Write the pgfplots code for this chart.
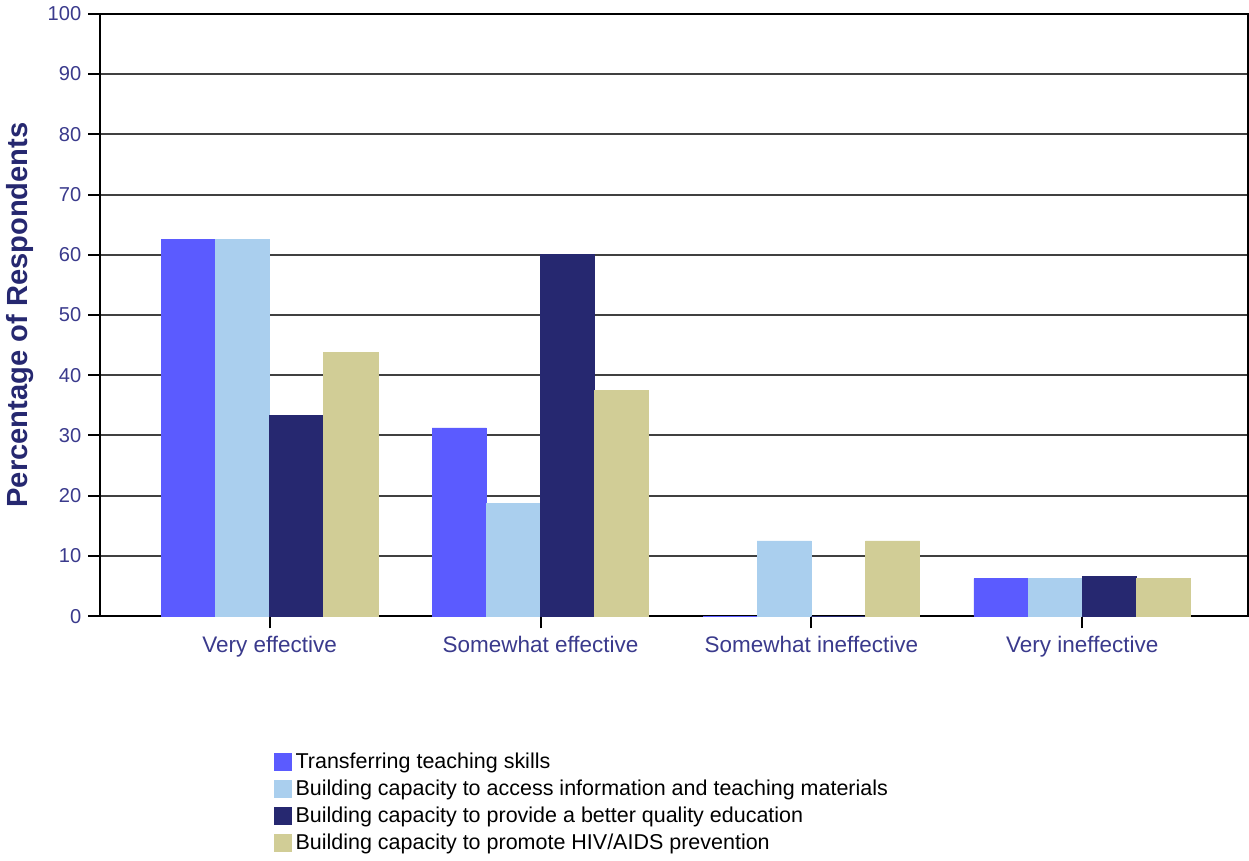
\documentclass[border=0pt]{standalone}
\usepackage{pgfplots}
\pgfplotsset{compat=1.18}
\usepackage{fontspec}
\setmainfont{Liberation Sans}
\definecolor{cA}{RGB}{91,91,255}
\definecolor{cB}{RGB}{170,207,238}
\definecolor{cC}{RGB}{38,40,112}
\definecolor{cD}{RGB}{209,205,150}
\definecolor{tickc}{RGB}{58,58,140}
\definecolor{labc}{RGB}{38,40,112}
\begin{document}
\begin{tikzpicture}
\begin{axis}[
  scale only axis,
  width=571.5pt, height=300pt,
  ybar=0pt, bar width=0.2,
  xmin=-0.625, xmax=3.612,
  ymin=0, ymax=100,
  ytick={0,10,...,100},
  xtick={0,1,2,3},
  xticklabels={Very effective,Somewhat effective,Somewhat ineffective,Very ineffective},
  ymajorgrids,
  grid style={line width=1pt, color=black!75},
  axis line style={line width=1pt, black},
  tick style={line width=1pt, black},
  major tick length=6pt,
  tick align=outside,
  xtick pos=bottom, ytick pos=left,
  /pgf/number format/assume math mode=true,
  tick label style={font=\fontsize{10}{12}\selectfont, text=tickc},
  xticklabel style={font=\fontsize{11.2}{13}\selectfont, yshift=-0.5pt},
  ylabel={\textbf{Percentage of Respondents}},
  ylabel style={font=\fontsize{14.5}{16}\selectfont, text=labc, yshift=0pt},
  legend style={at={(0.147,-0.213)}, anchor=north west, draw=none, font=\fontsize{10.7}{12.8}\selectfont,
    row sep=0.2pt, legend cell align=left, inner xsep=2pt},
  legend image code/.code={\draw[#1, draw=none] (0pt,-4.5pt) rectangle (9pt,4.5pt);},
]
\addplot[fill=cA, draw=cA] coordinates {(0,62.5) (1,31.25) (2,0) (3,6.25)};
\addplot[fill=cB, draw=cB] coordinates {(0,62.5) (1,18.75) (2,12.5) (3,6.25)};
\addplot[fill=cC, draw=cC] coordinates {(0,33.3) (1,60) (2,0) (3,6.67)};
\addplot[fill=cD, draw=cD] coordinates {(0,43.75) (1,37.5) (2,12.5) (3,6.25)};
\legend{Transferring teaching skills,
  Building capacity to access information and teaching materials,
  Building capacity to provide a better quality education,
  Building capacity to promote HIV/AIDS prevention}
\end{axis}
\end{tikzpicture}
\end{document}
